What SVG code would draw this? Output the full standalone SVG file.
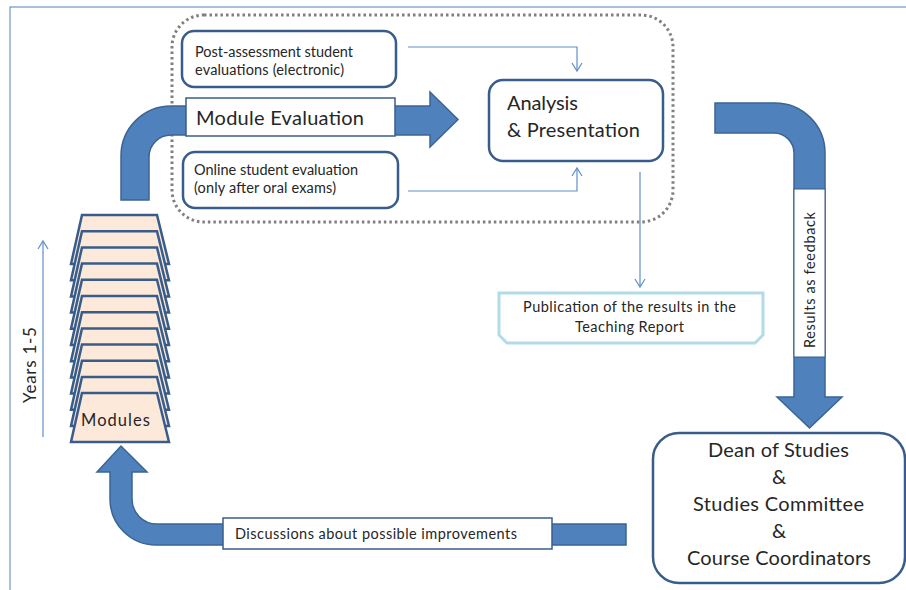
<svg xmlns="http://www.w3.org/2000/svg" xmlns:xlink="http://www.w3.org/1999/xlink" width="906" height="590" viewBox="0 0 906 590">
<style>
text{font-family:Lato,"Liberation Sans",sans-serif;fill:#262626}
.box{fill:#fff;stroke:#385d8a;stroke-width:2.5}
.big{fill:#4f81bd;stroke:#3b6494;stroke-width:1.5}
.thin{fill:none;stroke:#5f8fcc;stroke-width:1.2}
.lbl{fill:#fff;stroke:#385d8a;stroke-width:1.5}
.trap{fill:#fde9d9;stroke:#385d8a;stroke-width:2.5;stroke-linejoin:miter}
.s{font-size:14.5px}
.l{font-size:20px}
</style>
<defs>
<marker id="open" markerWidth="12" markerHeight="12" refX="10" refY="6" orient="auto" markerUnits="userSpaceOnUse">
<path d="M2,1 L10,6 L2,11" fill="none" stroke="#5f8fcc" stroke-width="1.2"/>
</marker>
<polygon id="tp" points="82,0 157,0 169,49 71,49"/>
</defs>
<rect width="906" height="590" fill="#fff"/>
<rect x="10" y="7" width="1000" height="1000" fill="none" stroke="#4f81bd" stroke-width="1"/>

<g id="group-boundary">
<rect x="172" y="15" width="501" height="207" rx="32" fill="none" stroke="#7f7f7f" stroke-width="3" stroke-dasharray="2.5 3"/>
</g>

<g id="connectors">
<path class="big" d="M121,200 L121,156 A50,50 0 0 1 171,106 L430,106 L430,92 L458,119.5 L430,147 L430,135 L171,135 A22,22 0 0 0 149,157 L149,200 Z"/>
<path class="big" d="M715,103 L775,103 A50,50 0 0 1 825,153 L825,397 L842,397 L809.5,428 L777,397 L794,397 L794,153 A20,20 0 0 0 774,133 L715,133 Z"/>
<path class="big" d="M626,524 L157,524 A25,25 0 0 1 132,499 L132,472 L147,472 L121,446 L97,472 L110,472 L110,499 A46,46 0 0 0 156,545 L626,545 Z"/>
<path class="thin" d="M408,47 L577,47 L577,71" marker-end="url(#open)"/>
<path class="thin" d="M408,191 L577,191 L577,168" marker-end="url(#open)"/>
<path class="thin" d="M640,172 L640,287" marker-end="url(#open)"/>
<path class="thin" d="M43,437 L43,241" marker-end="url(#open)"/>
</g>

<g id="module-evaluation">
<rect class="lbl" x="186" y="98" width="209" height="38"/>
<text class="l" x="196" y="125" textLength="168">Module Evaluation</text>
</g>

<g id="post-assessment">
<rect class="box" x="182" y="31" width="214" height="56" rx="12"/>
<text class="s" x="195" y="57" textLength="158">Post-assessment student</text>
<text class="s" x="195" y="75" textLength="149">evaluations (electronic)</text>
</g>

<g id="online-evaluation">
<rect class="box" x="183" y="152" width="215" height="56" rx="12"/>
<text class="s" x="194" y="175" textLength="164">Online student evaluation</text>
<text class="s" x="194" y="193" textLength="142">(only after oral exams)</text>
</g>

<g id="analysis">
<rect class="box" x="489" y="80" width="174" height="81" rx="14"/>
<text class="l" x="507" y="110" textLength="71">Analysis</text>
<text class="l" x="507" y="137" textLength="133">&amp; Presentation</text>
</g>

<g id="publication">
<path d="M499,293 L763,293 L763,335 L755,343 L507,343 L499,335 Z" fill="#fff" stroke="#b0dbe7" stroke-width="3"/>
<text class="s" x="523" y="312" textLength="213">Publication of the results in the</text>
<text class="s" x="575" y="332" textLength="109">Teaching Report</text>
</g>

<g id="results-feedback">
<rect x="794" y="189" width="31" height="168" fill="#fff" stroke="#385d8a" stroke-width="1"/>
<text class="s" transform="translate(815,348) rotate(-90)" textLength="136">Results as feedback</text>
</g>

<g id="dean">
<rect class="box" x="653" y="433" width="252" height="150" rx="26"/>
<text class="l" x="708" y="457" textLength="141">Dean of Studies</text>
<text class="l" x="779" y="484" text-anchor="middle">&amp;</text>
<text class="l" x="693" y="511" textLength="171">Studies Committee</text>
<text class="l" x="779" y="538" text-anchor="middle">&amp;</text>
<text class="l" x="687" y="565" textLength="184">Course Coordinators</text>
</g>

<g id="discussions">
<rect class="lbl" x="223" y="518" width="329" height="31"/>
<text class="s" x="235" y="539" textLength="282">Discussions about possible improvements</text>
</g>

<g id="modules">
<use xlink:href="#tp" class="trap" y="215"/>
<use xlink:href="#tp" class="trap" y="231.2"/>
<use xlink:href="#tp" class="trap" y="247.4"/>
<use xlink:href="#tp" class="trap" y="263.6"/>
<use xlink:href="#tp" class="trap" y="279.8"/>
<use xlink:href="#tp" class="trap" y="296"/>
<use xlink:href="#tp" class="trap" y="312.2"/>
<use xlink:href="#tp" class="trap" y="328.4"/>
<use xlink:href="#tp" class="trap" y="344.6"/>
<use xlink:href="#tp" class="trap" y="360.8"/>
<use xlink:href="#tp" class="trap" y="377"/>
<use xlink:href="#tp" class="trap" y="393"/>
<text x="81" y="426" font-size="16.5" textLength="69">Modules</text>
</g>

<g id="years">
<text transform="translate(36,403) rotate(-90)" font-size="17" textLength="76">Years 1-5</text>
</g>
</svg>
